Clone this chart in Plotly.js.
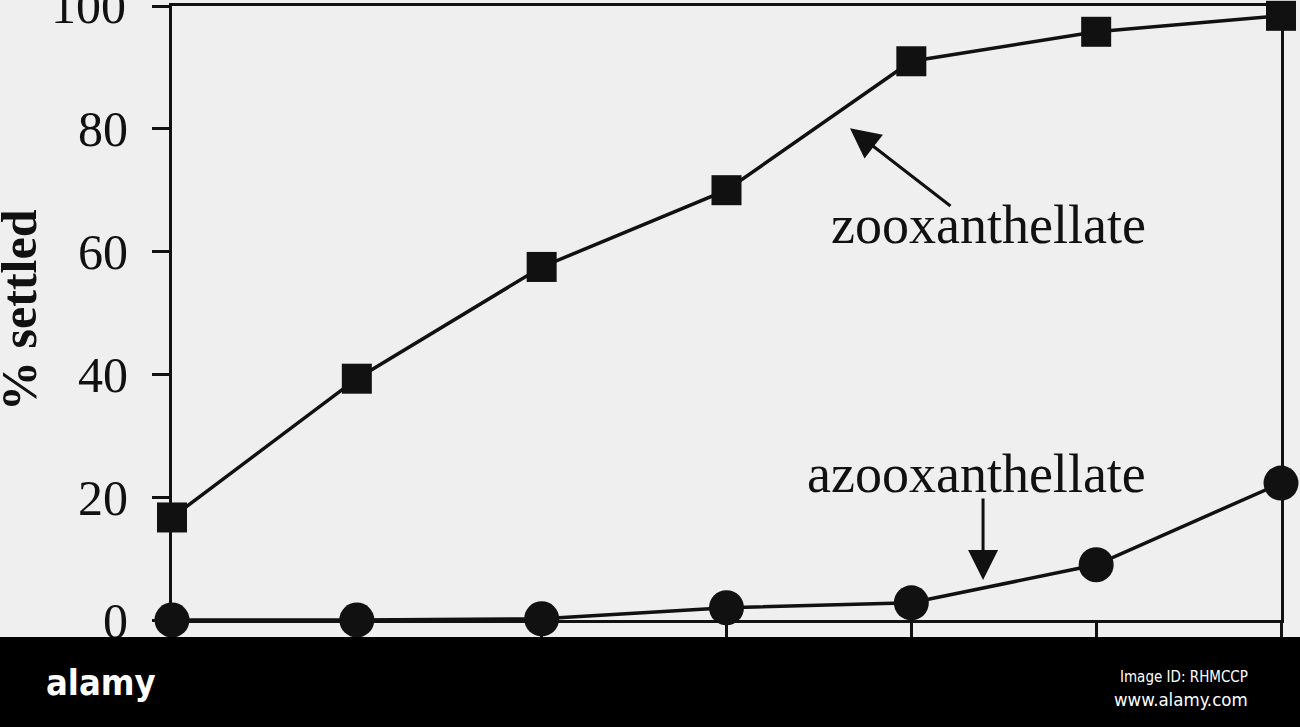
<!DOCTYPE html>
<html>
<head>
<meta charset="utf-8">
<script src="https://cdn.plot.ly/plotly-3.0.1.min.js"></script>
<style>html,body{margin:0;padding:0;background:#efefef;}#chart{width:1300px;height:727px;}</style>
</head>
<body>
<div id="chart"></div>
<script>
// Time points (x tick labels are cut off in the reference)
const timePoints = [0, 1, 2, 3, 4, 5, 6];
// % settled
const zooxanthellate = [16.7, 39.3, 57.5, 70.0, 91.0, 95.8, 98.4];
const azooxanthellate = [0, 0, 0.2, 2.0, 2.8, 9.0, 22.3];
const yTicks = [0, 20, 40, 60, 80, 100];

const ink = '#111111';
const serif = 'Liberation Serif, Times New Roman, serif';
const narrow = 'Liberation Sans Narrow, DejaVu Sans Condensed, Roboto, sans-serif';

const traces = [
  {
    x: timePoints, y: zooxanthellate, type: 'scatter', mode: 'lines+markers',
    name: 'zooxanthellate', cliponaxis: false,
    line: {color: ink, width: 3.5},
    marker: {symbol: 'square', size: 30, color: ink}
  },
  {
    x: timePoints, y: azooxanthellate, type: 'scatter', mode: 'lines+markers',
    name: 'azooxanthellate', cliponaxis: false,
    line: {color: ink, width: 3.5},
    marker: {symbol: 'circle', size: 35, color: ink}
  }
];

const layout = {
  width: 1300, height: 727,
  margin: {l: 172, r: 19, t: 6, b: 107},
  paper_bgcolor: '#efefef', plot_bgcolor: '#efefef',
  showlegend: false,
  font: {family: serif, color: ink},
  xaxis: {
    range: [0, 6], showgrid: false, zeroline: false,
    showline: true, linecolor: ink, linewidth: 3, mirror: true,
    ticks: 'outside', ticklen: 17, tickwidth: 3, tickcolor: ink,
    tickvals: timePoints, showticklabels: false
  },
  yaxis: {
    range: [0, 100], showgrid: false, zeroline: false,
    showline: true, linecolor: ink, linewidth: 3, mirror: true,
    ticks: 'outside', ticklen: 17, tickwidth: 3, tickcolor: ink,
    tickvals: yTicks, ticktext: yTicks.map(v => v === 100 ? '' : String(v)),
    tickfont: {family: serif, size: 50, color: ink},
    ticklabelstandoff: 14
  },
  shapes: [
    {type: 'rect', xref: 'paper', yref: 'paper', x0: -0.2, x1: 1.05, y0: -0.2, y1: -0.0277,
     fillcolor: '#000000', line: {width: 0}, layer: 'above'}
  ],
  annotations: [
    {xref: 'paper', yref: 'y', x: -0.0397, y: yTicks[5], text: String(yTicks[5]), showarrow: false,
     font: {family: serif, size: 50, color: ink}, xanchor: 'right', yanchor: 'middle'},
    {xref: 'paper', yref: 'paper', x: -0.138, y: 0.505, text: '<b>% settled</b>', textangle: -90,
     showarrow: false, font: {family: serif, size: 50, color: ink}, xanchor: 'center', yanchor: 'middle'},
    {x: 4.415, y: 64.3, text: 'zooxanthellate', showarrow: false,
     font: {family: serif, size: 54, color: ink}, xanchor: 'center', yanchor: 'middle'},
    {x: 3.668, y: 80.1, ax: 102, ay: 79, text: '', showarrow: true,
     arrowhead: 2, arrowsize: 2, arrowwidth: 3, arrowcolor: ink},
    {x: 4.355, y: 23.8, text: 'azooxanthellate', showarrow: false,
     font: {family: serif, size: 54, color: ink}, xanchor: 'center', yanchor: 'middle'},
    {x: 4.388, y: 6.5, ax: 0, ay: -83, text: '', showarrow: true,
     arrowhead: 2, arrowsize: 2, arrowwidth: 3, arrowcolor: ink},
    {xref: 'paper', yref: 'paper', x: -0.064, y: -0.101, text: '<b>alamy</b>', showarrow: false,
     font: {family: narrow, size: 36, color: '#ffffff'},
     xanchor: 'center', yanchor: 'middle'},
    {xref: 'paper', yref: 'paper', x: 0.972, y: -0.093, text: 'Image ID: RHMCCP', showarrow: false,
     font: {family: narrow, size: 15, color: '#ffffff'},
     xanchor: 'right', yanchor: 'middle'},
    {xref: 'paper', yref: 'paper', x: 0.972, y: -0.130, text: 'www.alamy.com', showarrow: false,
     font: {family: narrow, size: 18.5, color: '#ffffff'},
     xanchor: 'right', yanchor: 'middle'}
  ]
};

Plotly.newPlot('chart', traces, layout, {displayModeBar: false, staticPlot: true});
</script>
</body>
</html>
